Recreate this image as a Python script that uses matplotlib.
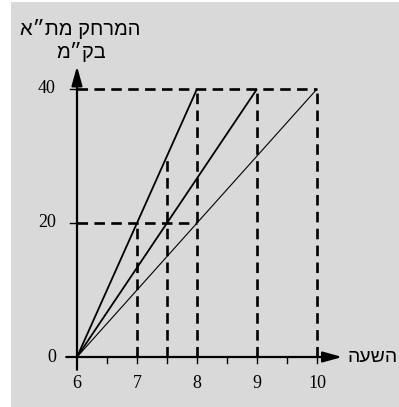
import matplotlib.pyplot as plt
from matplotlib.patches import Rectangle

# data
hours = [6, 7, 8, 9, 10]
minor_hours = [6.5, 7.5, 8.5, 9.5]
dist_ticks = [0, 20, 40]
trip_end_hour = [8, 9, 10]
trip_end_dist = [40, 40, 40]
trip_lw = [1.3, 1.3, 0.8]
# dashed guide lines: (x, top y)
guide_x = [7, 7.5, 8, 9, 10]
guide_top = [20, 30, 40, 40, 40]
guide_h = [20, 40]
guide_h_end = [8, 10]

y_label = ["\u05d0\u05f4\u05ea\u05de \u05e7\u05d7\u05e8\u05de\u05d4", "\u05de\u05f4\u05e7\u05d1"]
x_label = "\u05d4\u05e2\u05e9\u05d4"

fig = plt.figure(figsize=(3.99, 4.07), dpi=100)
fig.patch.set_facecolor("white")

ax = fig.add_axes([0, 0, 1, 1])
ax.set_facecolor("none")
ax.axis("off")
ax.add_patch(Rectangle((11 / 399, 0), 1, 405 / 407, transform=fig.transFigure,
                       facecolor="#d9d9d9", edgecolor="none", zorder=0))
# pixel-ish mapping: 60 px per hour, 6.7 px per km
ax.set_xlim(6 - 77 / 60, 6 + 322 / 60)
ax.set_ylim(-50 / 6.7, 357 / 6.7)

dash = (0, (4, 2.4))
for x, top in zip(guide_x, guide_top):
    ax.plot([x, x], [0, top], color="black", lw=1.9, linestyle=dash, zorder=2)
for y, xe in zip(guide_h, guide_h_end):
    ax.plot([6, xe], [y, y], color="black", lw=1.9, linestyle=dash, zorder=2)

for xe, ye, lw in zip(trip_end_hour, trip_end_dist, trip_lw):
    ax.plot([6, xe], [0, ye], color="black", lw=lw, solid_capstyle="butt", zorder=3)

# axes with arrows
head = "-|>,head_length=1.15,head_width=0.32"
ax.annotate("", xy=(10.42, 0), xytext=(5.82, 0),
            arrowprops=dict(arrowstyle=head, color="black", lw=1.6, shrinkA=0, shrinkB=0), zorder=4)
ax.annotate("", xy=(6, 43.4), xytext=(6, -1.9),
            arrowprops=dict(arrowstyle=head, color="black", lw=1.6, shrinkA=0, shrinkB=0), zorder=4)

px_y = 1 / 6.7
px_x = 1 / 60
for h in hours[1:]:
    ax.plot([h, h], [4 * px_y, -6 * px_y], color="black", lw=1, zorder=4)
for h in minor_hours:
    ax.plot([h, h], [0, -6 * px_y], color="black", lw=1, zorder=4)
for d in dist_ticks[1:]:
    ax.plot([6 - 7 * px_x, 6], [d, d], color="black", lw=1, zorder=4)

serif = ["Liberation Serif", "DejaVu Serif"]
for h in hours:
    ax.text(h, -27 * px_y, str(h), ha="center", va="center", fontsize=13, family=serif)
for d in dist_ticks:
    ax.text(6 - 21 * px_x, d, str(d), ha="right", va="center", fontsize=13, family=serif)

heb = ["Liberation Sans", "DejaVu Sans"]
ax.text(6 + 3 * px_x, 328 * px_y, y_label[0], ha="center", va="center", fontsize=14.5, family=heb)
ax.text(6 + 4 * px_x, 305 * px_y, y_label[1], ha="center", va="center", fontsize=14.5, family=heb)
ax.text(6 + 271 * px_x, 0, x_label, ha="left", va="center", fontsize=14, family=heb)

fig.savefig("out.png", dpi=100)
